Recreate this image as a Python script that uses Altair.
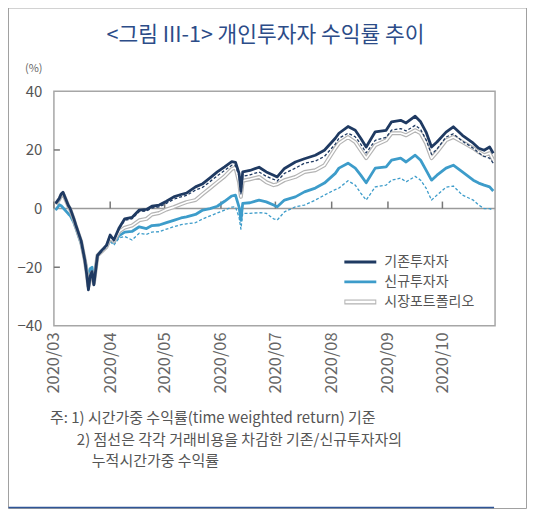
import altair as alt
import pandas as pd

FONT = "Noto Sans CJK KR"
NAVY = "#1f3a62"
BLUE = "#3d9cca"
GRAY_TXT = "#555555"

# 날짜 (x축)
dates = [
    "2020-03-02", "2020-03-04", "2020-03-05", "2020-03-06", "2020-03-09", "2020-03-10",
    "2020-03-12", "2020-03-13", "2020-03-16", "2020-03-18", "2020-03-19", "2020-03-20",
    "2020-03-21", "2020-03-22", "2020-03-23", "2020-03-25", "2020-03-27", "2020-03-30",
    "2020-04-01", "2020-04-03", "2020-04-06", "2020-04-09", "2020-04-13", "2020-04-17",
    "2020-04-21", "2020-04-24", "2020-04-28",
    "2020-05-02", "2020-05-06", "2020-05-10", "2020-05-13", "2020-05-18", "2020-05-22",
    "2020-05-26", "2020-05-30",
    "2020-06-03", "2020-06-07", "2020-06-09", "2020-06-11", "2020-06-12", "2020-06-13",
    "2020-06-17", "2020-06-22", "2020-06-26", "2020-06-30",
    "2020-07-02", "2020-07-06", "2020-07-12", "2020-07-17", "2020-07-23", "2020-07-28",
    "2020-08-03", "2020-08-05", "2020-08-10", "2020-08-14", "2020-08-17", "2020-08-20",
    "2020-08-25", "2020-08-31",
    "2020-09-03", "2020-09-08", "2020-09-11", "2020-09-16", "2020-09-19", "2020-09-22",
    "2020-09-25", "2020-09-28",
    "2020-10-03", "2020-10-07", "2020-10-12", "2020-10-18", "2020-10-21", "2020-10-24",
    "2020-10-27", "2020-10-29",
]

# 기존투자자
existing = [
    1.8, 3.5, 5.0, 5.6, 1.0, 0.0, -3.5, -5.5, -11.0, -17.5, -22.0, -27.7, -23.0, -21.5, -26.0, -16.0, -14.5, -12.5,
    -9.0, -10.7, -6.5, -3.5, -3.0, -0.5, -0.3, 0.8, 1.2,
    2.5, 4.0, 4.8, 5.3, 7.4, 8.5, 10.5, 12.5,
    14.2, 16.0, 15.8, 12.0, 6.0, 12.5, 13.0, 14.1, 12.5, 11.4,
    10.8, 13.7, 15.9, 17.0, 18.2, 19.9,
    24.0, 25.7, 28.0, 26.7, 24.0, 21.0, 26.2, 26.7,
    29.6, 30.1, 29.2, 31.5, 29.6, 26.1, 21.0, 22.7,
    26.1, 27.9, 25.0, 22.3, 20.6, 19.9, 21.0, 18.9,
]
# 기존투자자 (거래비용 차감, 점선)
existing_net = [
    1.6, 3.3, 4.8, 5.4, 0.8, -0.2, -3.7, -5.7, -11.2, -17.7, -22.2, -27.8, -23.2, -21.7, -26.2, -16.3, -14.8, -12.9,
    -9.5, -11.0, -6.8, -4.0, -3.5, -1.0, -0.8, 0.2, 0.6,
    1.8, 3.2, 4.0, 4.5, 6.3, 7.3, 9.2, 11.2,
    13.0, 14.8, 14.7, 11.0, 5.0, 11.0, 11.5, 12.5, 11.0, 10.0,
    9.4, 12.0, 13.8, 15.5, 16.2, 17.8,
    22.0, 24.0, 25.7, 24.5, 22.0, 19.0, 23.3, 24.3,
    26.8, 27.3, 26.5, 28.4, 27.0, 23.5, 18.5, 20.3,
    24.4, 25.5, 23.0, 20.6, 19.0, 17.8, 17.2, 15.5,
]
# 시장포트폴리오
market = [
    1.5, 3.2, 4.6, 5.2, 0.8, -0.3, -3.8, -5.8, -11.3, -17.5, -21.5, -26.5, -23.0, -21.8, -25.5, -16.0, -14.8, -13.0,
    -10.0, -11.2, -7.8, -6.5, -5.8, -4.0, -3.5, -2.0, -1.5,
    -0.3, 0.5, 1.5, 2.2, 2.9, 5.0, 7.0, 9.0,
    11.0, 13.5, 14.0, 9.0, 4.0, 9.5, 10.0, 10.8, 9.0, 8.0,
    8.3, 9.7, 10.8, 12.5, 13.1, 14.8,
    20.6, 22.3, 24.4, 22.7, 19.9, 17.2, 21.6, 23.3,
    25.7, 25.7, 25.0, 26.7, 25.7, 22.3, 17.2, 19.3,
    23.3, 24.4, 22.7, 20.6, 19.3, 18.2, 18.9, 16.5,
]
# 신규투자자
new = [
    -0.5, 1.3, 1.0, 0.3, -1.8, -2.4, -4.8, -6.5, -12.0, -17.5, -20.0, -24.5, -20.5, -20.0, -24.0, -16.0, -14.5, -13.0,
    -10.5, -11.5, -9.2, -8.0, -7.8, -6.2, -6.8, -5.8, -5.6,
    -4.8, -4.0, -3.2, -2.8, -2.0, -0.5, 0.0, 0.8,
    2.5, 4.3, 4.6, 0.5, -4.0, 1.8, 2.0, 2.9, 2.3, 1.2,
    0.6, 2.9, 4.0, 5.7, 7.0, 8.7,
    12.0, 13.8, 15.5, 13.8, 11.4, 8.8, 13.8, 14.2,
    16.5, 17.2, 15.9, 18.2, 16.5, 13.1, 9.7, 11.4,
    13.8, 14.8, 12.5, 9.7, 8.7, 8.0, 7.4, 6.0,
]
# 신규투자자 (거래비용 차감, 점선)
new_net = [
    -0.6, 1.2, 0.9, 0.2, -1.9, -2.5, -5.0, -6.7, -12.2, -17.7, -20.2, -24.7, -20.7, -20.2, -24.2, -16.3, -14.9, -13.5,
    -11.2, -12.5, -10.0, -9.5, -10.7, -8.4, -8.8, -8.0, -7.9,
    -7.0, -6.2, -5.5, -5.2, -4.8, -3.5, -2.5, -1.5,
    -0.5, 0.5, 0.6, -3.0, -7.0, -1.6, -1.6, -1.4, -1.6, -3.5,
    -3.9, -1.1, 0.6, 1.2, 2.9, 4.6,
    6.5, 7.0, 9.5, 8.0, 5.3, 2.9, 7.4, 8.0,
    9.7, 10.4, 9.1, 11.0, 9.7, 7.0, 2.9, 4.6,
    7.3, 7.7, 4.6, 2.9, 1.2, 0.0, 0.0, -0.5,
]

month_starts = ["2020-03-01", "2020-04-01", "2020-05-01", "2020-06-01",
                "2020-07-01", "2020-08-01", "2020-09-01", "2020-10-01"]
y_labels = [40, 20, 0, -20, -40]
y_inner_ticks = [20, -20]

legend_labels = ["기존투자자", "신규투자자", "시장포트폴리오"]
title_text = "<그림 III-1> 개인투자자 수익률 추이"
notes = [
    "주: 1) 시간가중 수익률(time weighted return) 기준",
    "2) 점선은 각각 거래비용을 차감한 기존/신규투자자의",
    "누적시간가중 수익률",
]

df = pd.DataFrame({
    "date": dates, "existing": existing, "existing_net": existing_net,
    "market": market, "new": new, "new_net": new_net,
})
df_months = pd.DataFrame({"date": month_starts})
df_yt = pd.DataFrame({"v": y_inner_ticks})
one = pd.DataFrame({"k": [0]})

x_enc = alt.X(
    "date:T",
    title=None,
    scale=alt.Scale(type="utc", domain=[alt.DateTime(year=2020, month=3, date=1, utc=True),
                                        alt.DateTime(year=2020, month=10, date=30, utc=True)]),
    axis=alt.Axis(values=[alt.DateTime(year=2020, month=m, date=1, utc=True) for m in range(3, 11)],
                  format="%Y/%m", labelAngle=270, labelPadding=6, labelFontSize=16.5,
                  labelColor="#666666", domain=False, ticks=False, grid=False),
)
y_scale = alt.Scale(domain=[-40, 40], nice=False)
y_axis = alt.Axis(values=y_labels, labelPadding=12, labelFontSize=15, labelColor=GRAY_TXT,
                  domain=False, ticks=False, grid=False)


def line(field, color, width, dash=None):
    props = dict(color=color, strokeWidth=width, strokeJoin="round")
    if dash:
        props["strokeDash"] = dash
    return alt.Chart(df).mark_line(**props).encode(
        x=x_enc, y=alt.Y(f"{field}:Q", title=None, scale=y_scale, axis=y_axis)
    )


zero_line = alt.Chart(one).mark_rule(color="#9a9a9a", strokeWidth=1.5).encode(y=alt.datum(0))
month_ticks = alt.Chart(df_months).mark_rule(color="#777777", strokeWidth=1.5).encode(
    x="date:T", y=alt.datum(0), y2=alt.datum(2.4)
)
y_ticks = alt.Chart(df_yt).mark_rule(color="#777777", strokeWidth=1.5).encode(
    y="v:Q", x=alt.value(0), x2=alt.value(6)
)

series = [
    line("new_net", BLUE, 1.3, [3, 2]),
    line("new", BLUE, 2.8),
    line("market", "#b4b4b4", 4),
    line("market", "white", 1.6),
    line("existing_net", NAVY, 1.3, [3, 2]),
    line("existing", NAVY, 2.8),
]


def text(t, x, y, size, color=GRAY_TXT, align="left"):
    return alt.Chart(one).mark_text(text=t, font=FONT, fontSize=size, color=color,
                                    align=align, baseline="middle").encode(
        x=alt.value(x), y=alt.value(y))


def seg(x1, x2, y, color, width):
    return alt.Chart(one).mark_rule(color=color, strokeWidth=width).encode(
        x=alt.value(x1), x2=alt.value(x2), y=alt.value(y))


decor = [
    alt.Chart(one).mark_rect(fillOpacity=0, stroke="#a0a0a0", strokeWidth=1).encode(
        x=alt.value(-45.5), x2=alt.value(473.5), y=alt.value(-83.5), y2=alt.value(418)),
    seg(-45.5, 441, 417, "#2f5597", 1.5),
    text(title_text, 212, -55, 21.5, color="#2c4c88", align="center"),
    text("(%)", -29, -22, 11, color="#666666"),
    # 범례
    seg(291, 323, 171, NAVY, 2.8),
    seg(291, 323, 191, BLUE, 2.8),
    seg(291, 323, 211, "#b4b4b4", 5),
    seg(292, 322, 211, "white", 2.6),
    text(legend_labels[0], 331, 171, 14),
    text(legend_labels[1], 331, 191, 14),
    text(legend_labels[2], 331, 211, 14),
    # 주석
    text(notes[0], -4, 327, 15),
    text(notes[1], 23, 349, 15),
    text(notes[2], 38, 370, 15),
]

chart = alt.layer(zero_line, month_ticks, y_ticks, *series, *decor).properties(
    width=442,
    height=235,
    autosize=alt.AutoSizeParams(type="none"),
    padding={"left": 46, "top": 83, "right": 33, "bottom": 185},
).configure_view(
    stroke="#a6a6a6", strokeWidth=1.5
).configure_axis(
    labelFont=FONT
)

chart.save("out.html", embed_options={"renderer": "svg", "actions": False})
